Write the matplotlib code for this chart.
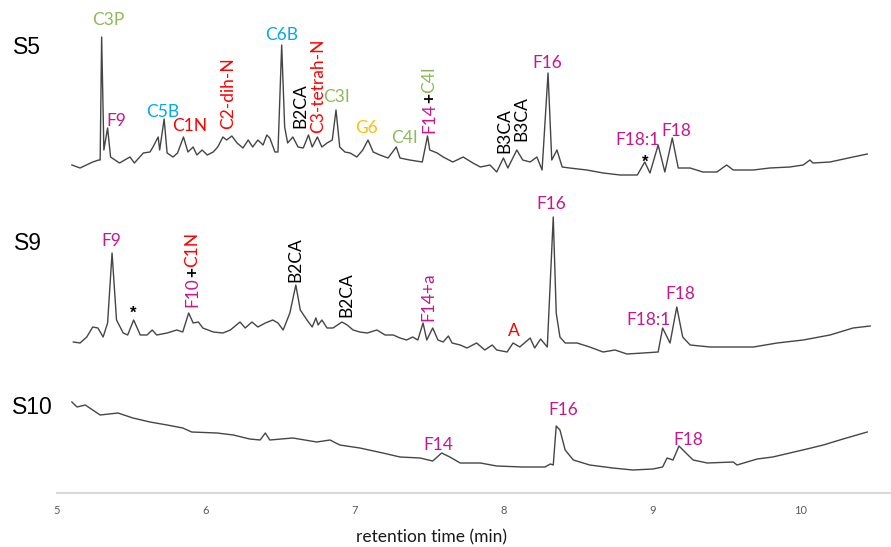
import matplotlib
matplotlib.use("Agg")
import matplotlib.pyplot as plt

# ---- GC traces (retention time in min, stacked signal in display units) ----
s5_time = [5.10, 5.155, 5.24, 5.28, 5.29, 5.30, 5.315, 5.34, 5.36, 5.39, 5.42, 5.49, 5.52,
           5.58, 5.625, 5.645, 5.68, 5.69, 5.72, 5.74, 5.78, 5.81, 5.85, 5.88, 5.915, 5.94,
           5.975, 6.01, 6.05, 6.08, 6.115, 6.14, 6.175, 6.21, 6.25, 6.285, 6.315, 6.35, 6.385,
           6.41, 6.43, 6.465, 6.485, 6.51, 6.53, 6.55, 6.585, 6.62, 6.655, 6.69, 6.715, 6.75,
           6.78, 6.815, 6.85, 6.875, 6.90, 6.935, 6.97, 7.015, 7.055, 7.09, 7.125, 7.17, 7.225,
           7.28, 7.305, 7.37, 7.455, 7.49, 7.505, 7.555, 7.595, 7.66, 7.73, 7.795, 7.845, 7.91,
           7.955, 8.00, 8.03, 8.09, 8.13, 8.18, 8.225, 8.26, 8.30, 8.325, 8.36, 8.395, 8.445,
           8.56, 8.67, 8.785, 8.90, 8.95, 8.985, 9.04, 9.085, 9.135, 9.175, 9.255, 9.34, 9.435,
           9.50, 9.545, 9.68, 9.79, 9.925, 10.015, 10.06, 10.08, 10.195, 10.35, 10.445]
s5_signal = [328, 325, 331, 333, 333, 456, 343, 365, 336, 333, 330, 336, 330,
             340, 341, 346, 356, 343, 374, 340, 336, 340, 356, 341, 346, 338,
             343, 338, 341, 346, 356, 353, 357, 350, 345, 353, 346, 353, 348,
             358, 355, 341, 341, 448, 366, 350, 356, 346, 345, 358, 346, 356,
             346, 350, 353, 383, 346, 341, 340, 336, 343, 353, 341, 338, 335,
             346, 335, 333, 331, 357, 343, 340, 336, 331, 336, 330, 326, 328,
             321, 335, 325, 343, 333, 331, 336, 323, 420, 333, 343, 326, 325,
             323, 320, 318, 318, 331, 320, 348, 321, 355, 325, 325, 321, 321,
             328, 323, 323, 325, 326, 328, 333, 330, 331, 336, 339]

s9_time = [5.11, 5.155, 5.20, 5.24, 5.275, 5.31, 5.34, 5.37, 5.40, 5.445, 5.475, 5.515, 5.56,
           5.605, 5.64, 5.67, 5.74, 5.805, 5.845, 5.885, 5.915, 5.95, 5.98, 6.05, 6.115, 6.165,
           6.23, 6.265, 6.31, 6.35, 6.40, 6.45, 6.485, 6.52, 6.565, 6.605, 6.635, 6.68, 6.715,
           6.74, 6.755, 6.78, 6.815, 6.855, 6.915, 6.95, 6.99, 7.035, 7.085, 7.15, 7.205, 7.26,
           7.305, 7.35, 7.39, 7.425, 7.46, 7.485, 7.525, 7.56, 7.595, 7.63, 7.655, 7.71, 7.755,
           7.82, 7.875, 7.925, 7.955, 8.025, 8.065, 8.11, 8.18, 8.21, 8.25, 8.295, 8.335, 8.355,
           8.38, 8.415, 8.495, 8.58, 8.67, 8.75, 8.83, 8.94, 9.04, 9.07, 9.12, 9.165, 9.205,
           9.255, 9.39, 9.525, 9.68, 9.84, 10.015, 10.195, 10.35, 10.465]
s9_signal = [151, 150, 156, 166, 165, 156, 170, 240, 173, 160, 158, 173, 158,
             158, 163, 158, 160, 163, 161, 180, 170, 171, 165, 161, 160, 163,
             171, 165, 171, 166, 170, 173, 170, 163, 180, 208, 183, 173, 166,
             175, 168, 173, 165, 165, 171, 168, 163, 161, 160, 163, 158, 158,
             155, 153, 156, 153, 170, 153, 165, 153, 151, 157, 150, 148, 145,
             150, 143, 148, 143, 141, 150, 146, 155, 145, 154, 146, 276, 180,
             156, 150, 150, 146, 141, 143, 139, 140, 141, 165, 150, 186, 156,
             148, 146, 146, 146, 150, 153, 158, 165, 167]

s10_time = [5.10, 5.135, 5.19, 5.29, 5.41, 5.51, 5.625, 5.74, 5.845, 5.905, 6.075, 6.185,
            6.295, 6.365, 6.40, 6.43, 6.585, 6.745, 6.835, 6.90, 7.035, 7.19, 7.305, 7.44,
            7.525, 7.585, 7.64, 7.71, 7.845, 7.955, 8.13, 8.28, 8.315, 8.335, 8.355, 8.38,
            8.415, 8.47, 8.58, 8.735, 8.87, 9.005, 9.07, 9.10, 9.14, 9.18, 9.22, 9.275, 9.37,
            9.545, 9.57, 9.705, 9.81, 9.925, 10.04, 10.15, 10.26, 10.375, 10.445]
s10_signal = [91, 86, 88, 78, 80, 75, 71, 68, 65, 61, 60, 58,
              54, 53, 60, 53, 55, 51, 53, 48, 45, 40, 36, 35,
              32, 40, 36, 30, 30, 27, 26, 26, 29, 28, 67, 63,
              43, 33, 28, 25, 23, 24, 26, 35, 33, 47, 41, 33, 30,
              31, 28, 34, 36, 40, 44, 48, 53, 58, 61]

x_ticks = [5, 6, 7, 8, 9, 10]

# ---- colours ----
MAG = "#C8168C"
RED = "#FF0000"
BLUE = "#00A8EC"
GREEN = "#8DB95A"
GOLD = "#FFC000"
BLK = "#000000"

# peak labels: (text, time, height, colour, rotated)
peak_labels = [
    # S5
    ("C3P", 5.343, 473, GREEN, False),
    ("F9", 5.396, 372, MAG, False),
    ("C5B", 5.712, 381, BLUE, False),
    ("C1N", 5.894, 367, RED, False),
    ("C2-dih-N", 6.149, 400, RED, True),
    ("C6B", 6.512, 458, BLUE, False),
    ("B2CA", 6.633, 387, BLK, True),
    ("C3-tetrah-N", 6.754, 407, RED, True),
    ("C3I", 6.875, 396, GREEN, False),
    ("G6", 7.083, 365, GOLD, False),
    ("C4I", 7.332, 355, GREEN, False),
    ("B3CA", 8.004, 362, BLK, True),
    ("B3CA", 8.118, 374, BLK, True),
    ("F16", 8.293, 430, MAG, False),
    ("F18:1", 8.898, 353, MAG, False),
    ("F18", 9.16, 362, MAG, False),
    # S9
    ("F9", 5.363, 252, MAG, False),
    ("B2CA", 6.599, 233, BLK, True),
    ("B2CA", 6.942, 198, BLK, True),
    ("F14+a", 7.493, 196, MAG, True),
    ("A", 8.071, 162, RED, False),
    ("F16", 8.32, 289, MAG, False),
    ("F18:1", 8.972, 173, MAG, False),
    ("F18", 9.187, 199, MAG, False),
    # S10
    ("F14", 7.56, 48, MAG, False),
    ("F16", 8.40, 83, MAG, False),
    ("F18", 9.24, 53, MAG, False),
]

# compound labels stacked bottom-to-top: (parts, time, bottom height)
combo_labels = [
    ([("F14", MAG), ("+", BLK), ("C4I", GREEN)], 7.50, 360),
    ([("F10", MAG), ("+", BLK), ("C1N", RED)], 5.907, 186),
]

# unidentified peaks marked with an asterisk: (time, height)
star_marks = [(8.95, 331), (5.511, 180)]

# sample names: (text, fig x, fig y)
sample_names = [("S5", 27, 47), ("S9", 28, 243), ("S10", 32, 407)]

W, H = 891, 547
fig = plt.figure(figsize=(W / 100, H / 100), dpi=100)
x0, x1 = 57, 891
y_axis = 493
ax = fig.add_axes([x0 / W, (H - y_axis) / H, (x1 - x0) / W, y_axis / H])
ax.set_xlim(5, 5 + (x1 - x0) / 148.8)
ax.set_ylim(0, y_axis)

for t, s in [(s5_time, s5_signal), (s9_time, s9_signal), (s10_time, s10_signal)]:
    ax.plot(t, s, color="#454545", lw=1.0, solid_joinstyle="round")

label_font = dict(family="Lato", fontsize=12.5)
for text, t, y, c, rot in peak_labels:
    ax.text(t, y, text, color=c, ha="center", va="center",
            rotation=90 if rot else 0, **label_font)

for parts, t, y in combo_labels:
    prev = ax.text(t, y, parts[0][0], color=parts[0][1], rotation=90,
                   ha="center", va="bottom", **label_font)
    for s, c in parts[1:]:
        prev = ax.annotate(s, xy=(0.5, 1.0), xycoords=prev, rotation=90,
                           ha="center", va="bottom", color=c,
                           fontweight="bold" if s == "+" else "normal",
                           **label_font)

for t, y in star_marks:
    ax.text(t, y, "*", color="black", ha="center", va="center",
            fontsize=12, fontweight="bold", family="Liberation Sans")

for name, px, py in sample_names:
    fig.text(px / W, 1 - py / H, name, ha="center", va="center",
             family="Liberation Sans", fontsize=16.5, color="black")

for side in ("top", "right", "left"):
    ax.spines[side].set_visible(False)
ax.spines["bottom"].set_color("#D9D9D9")
ax.spines["bottom"].set_linewidth(1.5)
ax.set_yticks([])
ax.set_xticks(x_ticks)
ax.set_xticklabels([str(v) for v in x_ticks], family="Lato", fontsize=8, color="#595959")
ax.tick_params(axis="x", length=0, pad=9)

fig.text(431 / W, 1 - 537 / H, "retention time (min)", ha="center", va="center",
         family="Lato", fontsize=12.5, color="#1A1A1A")

fig.savefig("out.png", dpi=100)
